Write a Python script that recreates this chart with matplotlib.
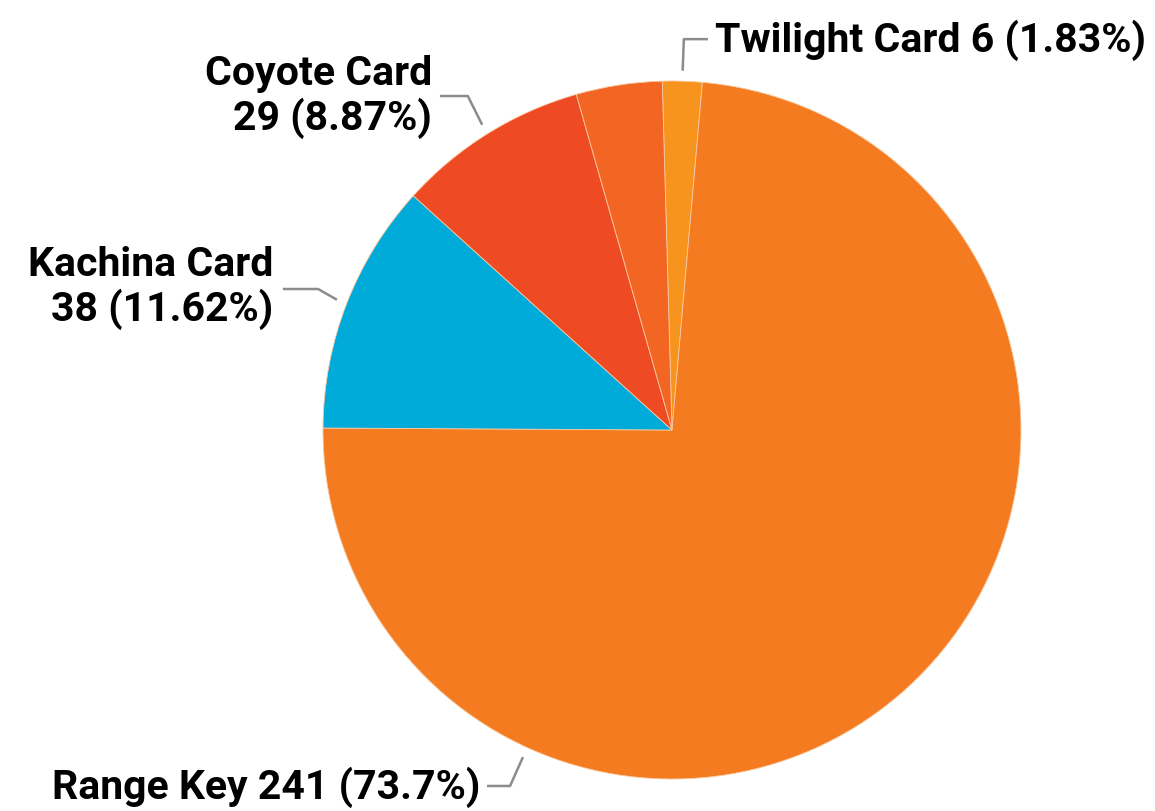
import numpy as np
import matplotlib
matplotlib.use('Agg')
import matplotlib.pyplot as plt

labels = ['Twilight Card', 'Range Key', 'Kachina Card', 'Coyote Card', 'Other']
values = [6, 241, 38, 29, 13]
pcts = ['1.83%', '73.7%', '11.62%', '8.87%', '3.98%']
colors = ['#f7941d', '#f47b20', '#00aad9', '#ee4a23', '#f26522']

plt.rcParams['font.family'] = ['Roboto', 'DejaVu Sans']

fig = plt.figure(figsize=(11.55, 8.12), dpi=100)
ax = fig.add_axes([0, 0, 1, 1])

start = 91.6
wedges, _ = ax.pie(values, colors=colors, startangle=start, counterclock=False,
                   wedgeprops=dict(edgecolor='#f9c9a0', linewidth=0.6))

# pie() resets the limits, so set them afterwards
ax.set_xlim(-1.9255, 1.384)
ax.set_ylim(-1.0917, 1.235)
ax.set_aspect('equal')
ax.axis('off')

# mid angles of each wedge
total = sum(values)
angs = []
a = start
for v in values:
    span = 360 * v / total
    angs.append(a - span / 2)
    a -= span

line_kw = dict(color='#8c8c8c', lw=1.8, solid_capstyle='butt')
fs = 29.5

def leader(ang, elbow, end):
    t = np.deg2rad(ang)
    p0 = (1.03 * np.cos(t), 1.03 * np.sin(t))
    ax.plot([p0[0], elbow[0], end[0]], [p0[1], elbow[1], end[1]], **line_kw)

# Twilight Card
leader(angs[0], (0.034, 1.12), (0.103, 1.12))
ax.text(0.123, 1.12, f'{labels[0]} {values[0]} ({pcts[0]})', fontsize=fs,
        fontweight='bold', ha='left', va='center')

# Coyote Card
leader(angs[3], (-0.585, 0.957), (-0.665, 0.957))
ax.text(-0.688, 0.957, f'{labels[3]}\n{values[3]} ({pcts[3]})', fontsize=fs,
        fontweight='bold', ha='right', va='center', multialignment='right',
        linespacing=1.12)

# Kachina Card
leader(angs[2], (-1.014, 0.404), (-1.115, 0.404))
ax.text(-1.143, 0.41, f'{labels[2]}\n{values[2]} ({pcts[2]})', fontsize=fs,
        fontweight='bold', ha='right', va='center', multialignment='right',
        linespacing=1.12)

# Range Key
leader(-114.5, (-0.464, -1.02), (-0.53, -1.02))
ax.text(-0.55, -1.02, f'{labels[1]} {values[1]} ({pcts[1]})', fontsize=fs,
        fontweight='bold', ha='right', va='center')

fig.savefig('out.png', dpi=100)
